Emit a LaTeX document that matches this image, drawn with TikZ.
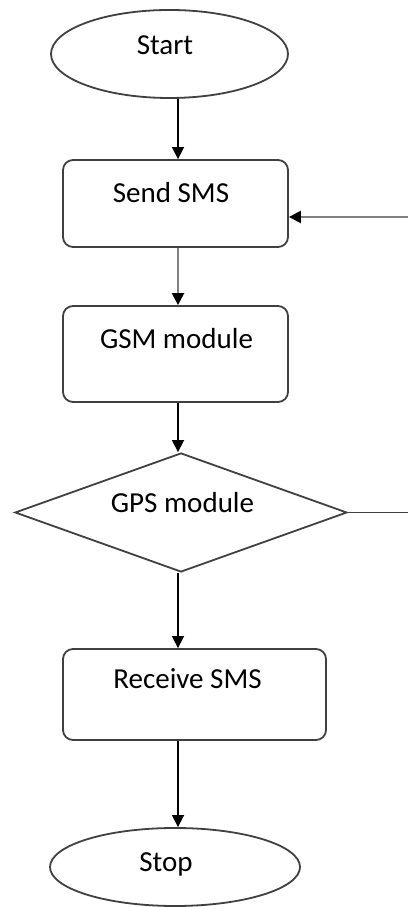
\documentclass[tikz,border=0pt]{standalone}
\usepackage{fontspec}
\setmainfont{Carlito}
\usetikzlibrary{shapes.geometric,arrows.meta}
\begin{document}
\begin{tikzpicture}[x=1pt,y=1pt,
  shapeline/.style={draw=black!75,line width=1.8pt,fill=white,inner sep=0pt},
  term/.style={shapeline,ellipse},
  procbox/.style={shapeline,rectangle,rounded corners=10pt},
  decide/.style={shapeline,diamond},
  lbl/.style={anchor=base,font=\fontsize{29}{31}\selectfont,text=black,inner sep=0pt},
  arr/.style={draw=black,line width=1.6pt,-{Triangle[length=12pt,width=12pt]}},
  grayarr/.style={draw=black!50,line width=2.4pt,-{Triangle[length=12pt,width=12pt,fill=black,color=black]}},
  plain/.style={draw=black!75,line width=1.8pt}]
\useasboundingbox (0,0) rectangle (408,907);
\coordinate (axis) at (178,0);
\node[term,minimum width=237pt,minimum height=88pt] (start) at (169.5,853) {};
\node[procbox,minimum width=225pt,minimum height=87pt] (send) at (175.5,703.5) {};
\node[procbox,minimum width=225pt,minimum height=96pt] (gsm) at (175.5,553) {};
\node[decide,minimum width=332pt,minimum height=119pt,aspect=2.79] (gps) at (181,394.5) {};
\node[procbox,minimum width=263pt,minimum height=91pt] (recv) at (194.5,212.5) {};
\node[term,minimum width=250pt,minimum height=78pt] (stop) at (175,40) {};
\node[lbl] (tstart) at (165,852) {Start};
\node[lbl] (tsend) at (171,704) {Send SMS};
\node[lbl] (tgsm) at (176.5,558.7) {GSM module};
\node[lbl] (tgps) at (182.5,394.3) {GPS module};
\node[lbl] (trecv) at (187.5,218.7) {Receive SMS};
\node[lbl] (tstop) at (166,35.3) {Stop};
\coordinate (rin) at (408,690);
\coordinate (rout) at (408,394.5);
\draw[arr] (start.south -| axis) -- (send.north -| axis);
\draw[grayarr] (send.south -| axis) -- (gsm.north -| axis);
\draw[arr] (gsm.south -| axis) -- (gps.north -| axis);
\draw[arr] (gps.south -| axis) -- (recv.north -| axis);
\draw[arr] (recv.south -| axis) -- (stop.north -| axis);
\draw[plain] (gps.east) -- (rout);
\draw[grayarr] (rin) -- (rin -| send.east);
\end{tikzpicture}
\end{document}
